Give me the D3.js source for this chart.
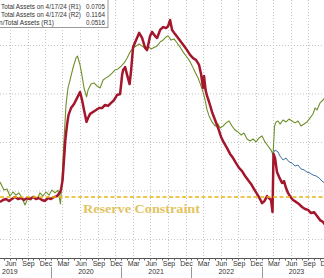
<!DOCTYPE html>
<html>
<head>
<meta charset="utf-8">
<script src="https://cdn.jsdelivr.net/npm/d3@7"></script>
<style>
  html, body { margin: 0; padding: 0; background: #fff; overflow: hidden; }
  svg { display: block; }
</style>
</head>
<body>
<svg id="chart" width="324" height="278"></svg>
<script>
// data (time as decimal years)
var redYears = [2019.274, 2019.316, 2019.359, 2019.402, 2019.444, 2019.487, 2019.530, 2019.573, 2019.615, 2019.658,
  2019.701, 2019.744, 2019.786, 2019.829, 2019.872, 2019.915, 2019.957, 2020.000, 2020.043, 2020.085,
  2020.124, 2020.142, 2020.165, 2020.185, 2020.204, 2020.228, 2020.249, 2020.285, 2020.328, 2020.370,
  2020.413, 2020.442, 2020.470, 2020.506, 2020.527, 2020.556, 2020.598, 2020.641, 2020.684, 2020.726,
  2020.769, 2020.812, 2020.855, 2020.897, 2020.940, 2020.983, 2021.012, 2021.026, 2021.054, 2021.083,
  2021.118, 2021.140, 2021.168, 2021.211, 2021.254, 2021.296, 2021.339, 2021.368, 2021.410, 2021.439,
  2021.481, 2021.510, 2021.553, 2021.595, 2021.638, 2021.667, 2021.695, 2021.724, 2021.766, 2021.809,
  2021.852, 2021.895, 2021.937, 2021.980, 2022.023, 2022.066, 2022.108, 2022.137, 2022.165, 2022.179,
  2022.201, 2022.222, 2022.251, 2022.293, 2022.336, 2022.379, 2022.422, 2022.464, 2022.507, 2022.550,
  2022.593, 2022.635, 2022.678, 2022.721, 2022.764, 2022.806, 2022.849, 2022.892, 2022.934, 2022.977,
  2023.006, 2023.041, 2023.077, 2023.105, 2023.134, 2023.155, 2023.169, 2023.191, 2023.219, 2023.255,
  2023.291, 2023.319, 2023.348, 2023.376, 2023.412, 2023.447, 2023.490, 2023.533, 2023.576, 2023.618,
  2023.661, 2023.704, 2023.746, 2023.789, 2023.832, 2023.875, 2023.917]
var redValues = [0.0755, 0.0763, 0.0767, 0.0759, 0.0767, 0.0775, 0.0767, 0.0771, 0.0763, 0.0771,
  0.0767, 0.0775, 0.0767, 0.0771, 0.0763, 0.0759, 0.0771, 0.0767, 0.0775, 0.0779,
  0.0792, 0.0804, 0.0845, 0.0928, 0.1010, 0.1072, 0.1113, 0.1142, 0.1159, 0.1183,
  0.1208, 0.1175, 0.1134, 0.1085, 0.1101, 0.1118, 0.1126, 0.1134, 0.1142, 0.1142,
  0.1155, 0.1151, 0.1163, 0.1175, 0.1196, 0.1200, 0.1280, 0.1299, 0.1311, 0.1278,
  0.1241, 0.1299, 0.1394, 0.1423, 0.1452, 0.1431, 0.1390, 0.1381, 0.1439, 0.1456,
  0.1439, 0.1431, 0.1464, 0.1476, 0.1472, 0.1480, 0.1505, 0.1464, 0.1447, 0.1431,
  0.1414, 0.1398, 0.1381, 0.1361, 0.1348, 0.1340, 0.1320, 0.1282, 0.1225, 0.1274,
  0.1216, 0.1192, 0.1167, 0.1126, 0.1093, 0.1060, 0.1023, 0.0998, 0.0977, 0.0953,
  0.0936, 0.0915, 0.0895, 0.0882, 0.0862, 0.0845, 0.0829, 0.0808, 0.0788, 0.0767,
  0.0750, 0.0759, 0.0779, 0.0771, 0.0763, 0.0713, 0.0953, 0.0936, 0.0878, 0.0854,
  0.0833, 0.0841, 0.0812, 0.0792, 0.0775, 0.0763, 0.0755, 0.0746, 0.0734, 0.0726,
  0.0722, 0.0709, 0.0713, 0.0697, 0.0680, 0.0672, 0.0656]

var greenYears = [2019.274, 2019.302, 2019.330, 2019.373, 2019.416, 2019.459, 2019.501, 2019.544, 2019.587, 2019.630,
  2019.672, 2019.715, 2019.758, 2019.801, 2019.843, 2019.886, 2019.929, 2019.972, 2020.014, 2020.057,
  2020.100, 2020.135, 2020.157, 2020.185, 2020.214, 2020.242, 2020.271, 2020.313, 2020.356, 2020.377,
  2020.413, 2020.442, 2020.470, 2020.506, 2020.527, 2020.570, 2020.613, 2020.655, 2020.698, 2020.741,
  2020.783, 2020.826, 2020.869, 2020.912, 2020.954, 2020.997, 2021.040, 2021.083, 2021.125, 2021.168,
  2021.211, 2021.254, 2021.296, 2021.339, 2021.382, 2021.425, 2021.467, 2021.510, 2021.553, 2021.595,
  2021.638, 2021.667, 2021.709, 2021.752, 2021.795, 2021.838, 2021.880, 2021.923, 2021.966, 2022.009,
  2022.051, 2022.094, 2022.137, 2022.165, 2022.194, 2022.222, 2022.251, 2022.293, 2022.336, 2022.379,
  2022.407, 2022.450, 2022.493, 2022.536, 2022.578, 2022.621, 2022.664, 2022.707, 2022.749, 2022.792,
  2022.835, 2022.878, 2022.920, 2022.963, 2023.006, 2023.048, 2023.091, 2023.134, 2023.162, 2023.184,
  2023.205, 2023.234, 2023.262, 2023.305, 2023.348, 2023.390, 2023.433, 2023.476, 2023.519, 2023.561,
  2023.604, 2023.647, 2023.689, 2023.732, 2023.761, 2023.789, 2023.832, 2023.875, 2023.917]
var greenValues = [0.0746, 0.0726, 0.0705, 0.0710, 0.0674, 0.0695, 0.0679, 0.0690, 0.0664, 0.0628,
  0.0664, 0.0654, 0.0674, 0.0659, 0.0690, 0.0674, 0.0695, 0.0679, 0.0705, 0.0690,
  0.0705, 0.0633, 0.0757, 0.0963, 0.1143, 0.1231, 0.1272, 0.1334, 0.1386, 0.1396,
  0.1350, 0.1293, 0.1231, 0.1185, 0.1221, 0.1252, 0.1257, 0.1241, 0.1231, 0.1272,
  0.1283, 0.1293, 0.1308, 0.1324, 0.1329, 0.1344, 0.1360, 0.1386, 0.1417, 0.1437,
  0.1447, 0.1458, 0.1447, 0.1437, 0.1447, 0.1432, 0.1440, 0.1448, 0.1468, 0.1478,
  0.1494, 0.1500, 0.1478, 0.1484, 0.1463, 0.1442, 0.1417, 0.1396, 0.1375, 0.1345,
  0.1314, 0.1283, 0.1241, 0.1210, 0.1169, 0.1118, 0.1087, 0.1056, 0.1035, 0.1045,
  0.1025, 0.1035, 0.1051, 0.1061, 0.1035, 0.1014, 0.1004, 0.0989, 0.0999, 0.0968,
  0.0958, 0.0968, 0.0953, 0.0973, 0.0984, 0.0953, 0.0932, 0.0911, 0.0886, 0.1035,
  0.1056, 0.1061, 0.1045, 0.1066, 0.1056, 0.1071, 0.1061, 0.1051, 0.1061, 0.1035,
  0.1045, 0.1056, 0.1076, 0.1097, 0.1128, 0.1118, 0.1154, 0.1169, 0.1190]

var blueYears = [2023.169, 2023.191, 2023.234, 2023.262, 2023.305, 2023.348, 2023.390, 2023.433, 2023.476, 2023.519,
  2023.561, 2023.604, 2023.647, 2023.689, 2023.732, 2023.775, 2023.818, 2023.860, 2023.917]
var blueValues = [0.0957, 0.0969, 0.0961, 0.0944, 0.0928, 0.0936, 0.0920, 0.0915, 0.0903, 0.0907,
  0.0891, 0.0887, 0.0878, 0.0874, 0.0866, 0.0862, 0.0854, 0.0841, 0.0829]

var reserveConstraint = 0.0775
var gridTicksR1 = [0.06, 0.08, 0.10, 0.12, 0.14]
var yearLabels = [2019, 2020, 2021, 2022, 2023]
var legendLabels = ['Total Assets on 4/17/24 (R1)', 'Total Assets on 4/17/24 (R2)', 'n/Total Assets (R1)']
var legendValues = ['0.0705', '0.1164', '0.0516']

var svg = d3.select('#chart')
var font = '"Liberation Sans", Arial, sans-serif'

// decimal year -> Date
function toDate (t) {
  var y = Math.floor(t)
  var a = new Date(y, 0, 1)
  var b = new Date(y + 1, 0, 1)
  return new Date(+a + (t - y) * (b - a))
}

var x = d3.scaleTime().domain([new Date(2019, 0, 1), new Date(2024, 0, 1)]).range([-19.2, 331.8])
var yR1 = d3.scaleLinear().domain([0.06, 0.14]).range([239.5, 45.5])
var yR2 = d3.scaleLinear().domain([0.045, 0.145]).range([239.5, 45.5])
var axisY = 258.5

var allMonths = d3.timeMonth.range(new Date(2019, 3, 1), new Date(2024, 1, 1))
var quarterMonths = allMonths.filter(function (d) { return d.getMonth() % 3 === 2 })

// grid
svg.append('g').selectAll('line')
  .data(quarterMonths)
  .enter().append('line')
  .attr('x1', function (d) { return Math.round(x(d)) + 0.5 })
  .attr('x2', function (d) { return Math.round(x(d)) + 0.5 })
  .attr('y1', 0).attr('y2', axisY)
  .attr('stroke', '#c4c4c4').attr('stroke-dasharray', '1,2')

svg.append('g').selectAll('line')
  .data(gridTicksR1)
  .enter().append('line')
  .attr('x1', 0).attr('x2', 324)
  .attr('y1', function (d) { return yR1(d) }).attr('y2', function (d) { return yR1(d) })
  .attr('stroke', '#c4c4c4').attr('stroke-dasharray', '1,2')

// series
function series (years, values) {
  return years.map(function (t, i) { return { date: toDate(t), value: values[i] } })
}
var lineR1 = d3.line().x(function (d) { return x(d.date) }).y(function (d) { return yR1(d.value) })
var lineR2 = d3.line().x(function (d) { return x(d.date) }).y(function (d) { return yR2(d.value) })

svg.append('path').datum(series(greenYears, greenValues))
  .attr('d', lineR2).attr('fill', 'none')
  .attr('stroke', '#6f8f2a').attr('stroke-width', 1.1).attr('stroke-linejoin', 'round')

svg.append('path').datum(series(blueYears, blueValues))
  .attr('d', lineR1).attr('fill', 'none')
  .attr('stroke', '#3f6fa3').attr('stroke-width', 1).attr('stroke-linejoin', 'round')

svg.append('path').datum(series(redYears, redValues))
  .attr('d', lineR1).attr('fill', 'none')
  .attr('stroke', '#a3162b').attr('stroke-width', 2.5).attr('stroke-linejoin', 'round')

// reserve constraint
svg.append('line')
  .attr('x1', 0).attr('x2', 324)
  .attr('y1', yR1(reserveConstraint)).attr('y2', yR1(reserveConstraint))
  .attr('stroke', '#e8b414').attr('stroke-width', 1.5).attr('stroke-dasharray', '4,2.5')

svg.append('text')
  .attr('x', x(toDate(2020.455))).attr('y', 213)
  .attr('font-family', '"Liberation Serif", "Times New Roman", serif')
  .attr('font-weight', 'bold').attr('font-size', 13.5)
  .attr('textLength', 117).attr('lengthAdjust', 'spacingAndGlyphs')
  .attr('fill', '#e2c462')
  .text('Reserve Constraint')

// x axis
svg.append('line')
  .attr('x1', 0).attr('x2', 324).attr('y1', axisY).attr('y2', axisY)
  .attr('stroke', '#555').attr('stroke-width', 1)

svg.append('g').selectAll('line')
  .data(allMonths)
  .enter().append('line')
  .attr('x1', function (d) { return Math.round(x(d)) + 0.5 })
  .attr('x2', function (d) { return Math.round(x(d)) + 0.5 })
  .attr('y1', axisY).attr('y2', axisY + 2)
  .attr('stroke', '#666')

svg.append('g').selectAll('text')
  .data(quarterMonths)
  .enter().append('text')
  .attr('x', function (d) { return x(d) + 1 })
  .attr('y', 266)
  .attr('text-anchor', 'middle')
  .attr('font-family', font).attr('font-size', 7)
  .attr('fill', '#333')
  .text(d3.timeFormat('%b'))

svg.append('g').selectAll('line')
  .data(yearLabels.slice(1))
  .enter().append('line')
  .attr('x1', function (d) { return Math.round(x(new Date(d, 0, 1))) + 0.5 })
  .attr('x2', function (d) { return Math.round(x(new Date(d, 0, 1))) + 0.5 })
  .attr('y1', 267).attr('y2', 278)
  .attr('stroke', '#999')

svg.append('g').selectAll('text')
  .data(yearLabels)
  .enter().append('text')
  .attr('x', function (d, i) { return i === 0 ? 2 : x(new Date(d, 6, 1)) })
  .attr('y', 274)
  .attr('text-anchor', function (d, i) { return i === 0 ? 'start' : 'middle' })
  .attr('font-family', font).attr('font-size', 7)
  .attr('fill', '#333')
  .text(function (d) { return d })

// legend (cut by the left/top edges)
svg.append('rect')
  .attr('x', -5).attr('y', -5).attr('width', 113).attr('height', 32.5)
  .attr('fill', '#fff').attr('stroke', '#9a9a9a')

var legend = svg.append('g').selectAll('g')
  .data(legendLabels)
  .enter().append('g')
  .attr('transform', function (d, i) { return 'translate(0,' + (8.5 + i * 8.2) + ')' })

legend.append('text')
  .attr('x', function (d, i) { return i === 2 ? -1 : 1 })
  .attr('font-family', font).attr('font-size', 6.6)
  .attr('textLength', function (d, i) { return i === 2 ? 55 : 80 })
  .attr('lengthAdjust', 'spacingAndGlyphs')
  .attr('fill', '#333')
  .text(function (d) { return d })

legend.append('text')
  .attr('x', 86)
  .attr('font-family', font).attr('font-size', 6.6)
  .attr('textLength', 19)
  .attr('lengthAdjust', 'spacingAndGlyphs')
  .attr('fill', '#333')
  .text(function (d, i) { return legendValues[i] })
</script>
</body>
</html>
